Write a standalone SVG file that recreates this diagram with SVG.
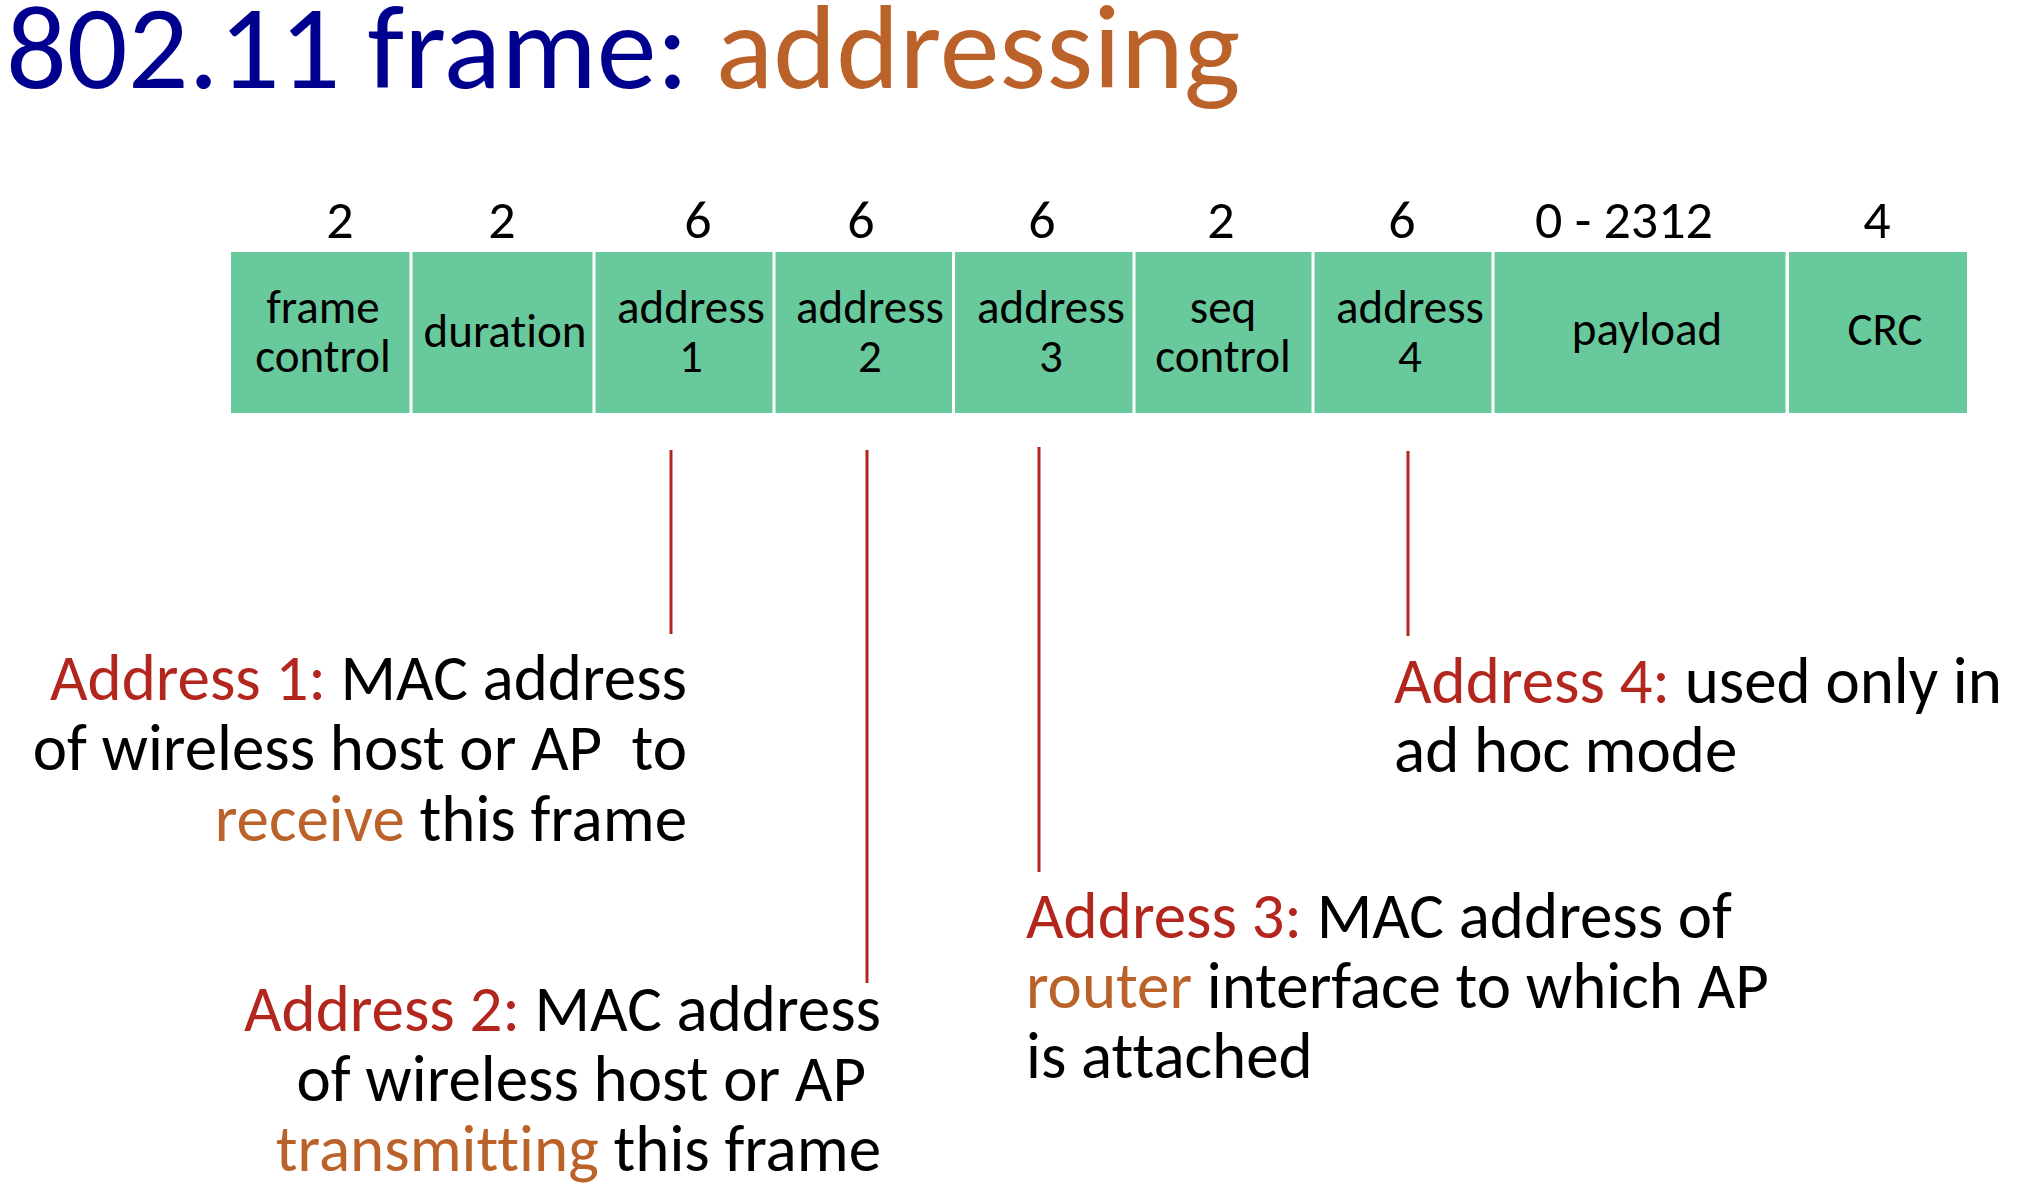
<svg xmlns="http://www.w3.org/2000/svg" width="2034" height="1198" viewBox="0 0 2034 1198">
  <style>
    text { font-family: Carlito, Calibri, Lato, "Liberation Sans", sans-serif; fill: #000; font-variant-ligatures: none; font-feature-settings: "liga" 0, "clig" 0; }
    .title { font-size: 120px; }
    .blue { fill: #00008F; }
    .orange { fill: #BB622A; }
    .red { fill: #B2261E; }
    .size { font-size: 54px; text-anchor: middle; }
    .field rect { fill: #68C99C; }
    .field text { font-size: 47px; text-anchor: middle; }
    .note { font-size: 65px; }
    .end { text-anchor: end; }
    .conn line { stroke: #B2261E; stroke-width: 3; }
  </style>

  <rect width="2034" height="1198" fill="#fff"/>

  <!-- heading -->
  <text class="title" x="6" y="88"><tspan class="blue">802.11 frame: </tspan><tspan class="orange">addressing</tspan></text>

  <!-- byte counts above each field -->
  <g id="sizes">
    <text class="size" x="340" y="238">2</text>
    <text class="size" x="502" y="238">2</text>
    <text class="size" x="698" y="238">6</text>
    <text class="size" x="861" y="238">6</text>
    <text class="size" x="1042" y="238">6</text>
    <text class="size" x="1221" y="238">2</text>
    <text class="size" x="1402" y="238">6</text>
    <text class="size" x="1624" y="238">0 - 2312</text>
    <text class="size" x="1877" y="238">4</text>
  </g>

  <!-- frame fields -->
  <g id="field-frame-control" class="field">
    <rect x="231" y="252" width="178.5" height="161"/>
    <text x="323" y="323">frame</text>
    <text x="323" y="372">control</text>
  </g>
  <g id="field-duration" class="field">
    <rect x="412.5" y="252" width="180" height="161"/>
    <text x="505" y="347">duration</text>
  </g>
  <g id="field-address1" class="field">
    <rect x="595.5" y="252" width="177" height="161"/>
    <text x="691" y="323">address</text>
    <text x="691" y="372">1</text>
  </g>
  <g id="field-address2" class="field">
    <rect x="775.5" y="252" width="176.5" height="161"/>
    <text x="870" y="323">address</text>
    <text x="870" y="372">2</text>
  </g>
  <g id="field-address3" class="field">
    <rect x="955" y="252" width="177.5" height="161"/>
    <text x="1051" y="323">address</text>
    <text x="1051" y="372">3</text>
  </g>
  <g id="field-seq-control" class="field">
    <rect x="1135.5" y="252" width="176" height="161"/>
    <text x="1223" y="323">seq</text>
    <text x="1223" y="372">control</text>
  </g>
  <g id="field-address4" class="field">
    <rect x="1314.5" y="252" width="177" height="161"/>
    <text x="1410" y="323">address</text>
    <text x="1410" y="372">4</text>
  </g>
  <g id="field-payload" class="field">
    <rect x="1494.5" y="252" width="291" height="161"/>
    <text x="1647" y="345">payload</text>
  </g>
  <g id="field-crc" class="field">
    <rect x="1789" y="252" width="178" height="161"/>
    <text x="1885" y="345">CRC</text>
  </g>

  <!-- leader lines from address fields to their notes -->
  <g id="connectors" class="conn">
    <line x1="671" y1="450" x2="671" y2="634"/>
    <line x1="867" y1="450" x2="867" y2="983"/>
    <line x1="1039" y1="447" x2="1039" y2="872"/>
    <line x1="1408" y1="451" x2="1408" y2="636"/>
  </g>

  <!-- notes -->
  <g id="note-address1" class="note">
    <text class="note end" x="687" y="700"><tspan class="red">Address 1:</tspan> MAC address</text>
    <text class="note end" x="687" y="770" xml:space="preserve">of wireless host or AP  to</text>
    <text class="note end" x="687" y="841"><tspan class="orange">receive</tspan> this frame</text>
  </g>
  <g id="note-address2" class="note">
    <text class="note end" x="881" y="1031"><tspan class="red">Address 2:</tspan> MAC address</text>
    <text class="note end" x="866" y="1101">of wireless host or AP</text>
    <text class="note end" x="881" y="1171"><tspan class="orange">transmitting</tspan> this frame</text>
  </g>
  <g id="note-address3" class="note">
    <text class="note" x="1026" y="938"><tspan class="red">Address 3:</tspan> MAC address of</text>
    <text class="note" x="1026" y="1008"><tspan class="orange">router</tspan> interface to which AP</text>
    <text class="note" x="1026" y="1078">is attached</text>
  </g>
  <g id="note-address4" class="note">
    <text class="note" x="1394" y="703"><tspan class="red">Address 4:</tspan> used only in</text>
    <text class="note" x="1394" y="772">ad hoc mode</text>
  </g>
</svg>
